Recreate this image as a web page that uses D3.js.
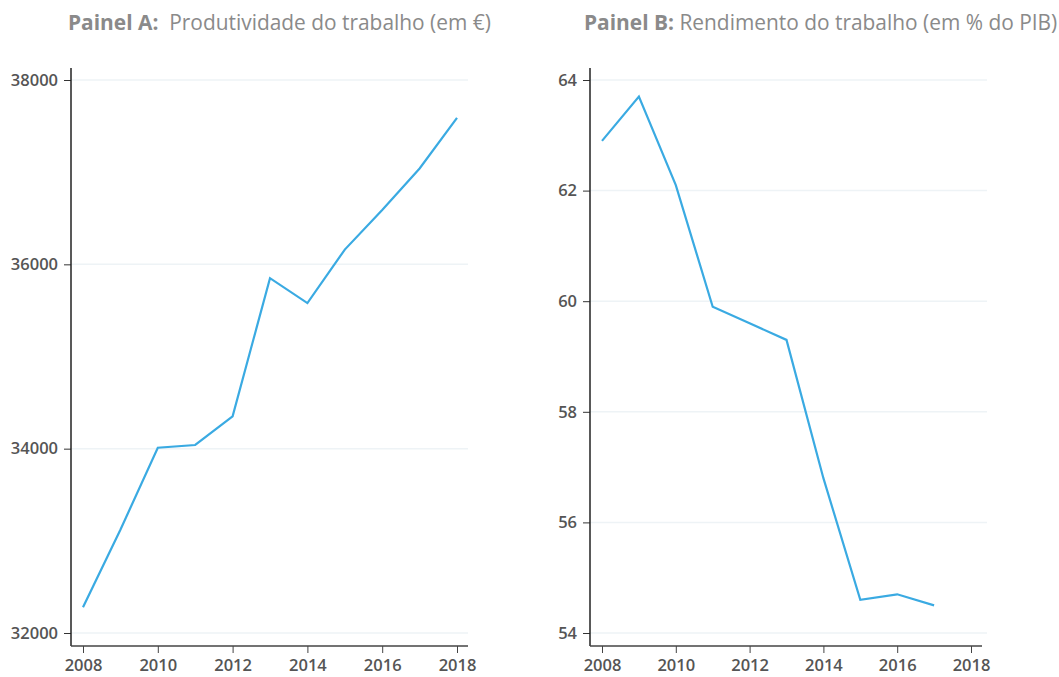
<!DOCTYPE html>
<html>
<head>
<meta charset="utf-8">
<script src="https://cdn.jsdelivr.net/npm/d3@7"></script>
<style>
  body { margin: 0; background: #fff; }
  svg { display: block; font-family: 'Open Sans', sans-serif; }
</style>
</head>
<body>
<script>
// data
const years = [2008, 2009, 2010, 2011, 2012, 2013, 2014, 2015, 2016, 2017, 2018];
const productivity = [32280, 33120, 34010, 34040, 34350, 35850, 35580, 36160, 36590, 37040, 37590];
const yearsB = [2008, 2009, 2010, 2011, 2012, 2013, 2014, 2015, 2016, 2017];
const laborShare = [62.9, 63.7, 62.1, 59.9, 59.6, 59.3, 56.8, 54.6, 54.7, 54.5];

const xTicks = [2008, 2010, 2012, 2014, 2016, 2018];
const yTicksA = [32000, 34000, 36000, 38000];
const yTicksB = [54, 56, 58, 60, 62, 64];

const W = 1059, H = 677;
const svg = d3.select('body').append('svg')
  .attr('width', W)
  .attr('height', H);

function styleTicks(sel) {
  sel.selectAll('text')
    .attr('fill', '#555')
    .style('font-size', '16.5px')
    .style('font-weight', 600)
    .style('font-family', "'Open Sans', sans-serif");
}

function drawPanel(opts) {
  const g = svg.append('g');
  const x = d3.scaleLinear()
    .domain(d3.extent(xTicks))
    .range([opts.left + 12, opts.right - 11]);
  const y = d3.scaleLinear()
    .domain(d3.extent(opts.yTicks))
    .range([633, 80]);
  const top = 68, bottom = 646;

  // gridlines
  g.selectAll('.grid')
    .data(opts.yTicks)
    .enter().append('line')
    .attr('x1', opts.left)
    .attr('x2', opts.gridRight)
    .attr('y1', d => y(d))
    .attr('y2', d => y(d))
    .attr('stroke', '#eef3f6')
    .attr('stroke-width', 1.5);

  // y axis
  const ya = g.append('g')
    .attr('transform', `translate(${opts.left},0)`)
    .call(d3.axisLeft(y).tickValues(opts.yTicks).tickFormat(d3.format('d'))
      .tickSize(7).tickSizeOuter(0).tickPadding(6));
  ya.select('.domain').remove();
  ya.selectAll('.tick line').attr('stroke', '#333');
  styleTicks(ya);
  g.append('line')
    .attr('x1', opts.left).attr('x2', opts.left)
    .attr('y1', top).attr('y2', bottom)
    .attr('stroke', '#222').attr('stroke-width', 1.5);

  // x axis
  const xa = g.append('g')
    .attr('transform', `translate(0,${bottom})`)
    .call(d3.axisBottom(x).tickValues(xTicks).tickFormat(d3.format('d'))
      .tickSize(7).tickSizeOuter(0).tickPadding(6));
  xa.select('.domain').remove();
  xa.selectAll('.tick line').attr('stroke', '#444');
  styleTicks(xa);
  g.append('line')
    .attr('x1', opts.left).attr('x2', opts.right)
    .attr('y1', bottom).attr('y2', bottom)
    .attr('stroke', '#444').attr('stroke-width', 1.5);

  // series line
  const line = d3.line()
    .x((d, i) => x(opts.xs[i]))
    .y(d => y(d));
  g.append('path')
    .datum(opts.values)
    .attr('d', line)
    .attr('fill', 'none')
    .attr('stroke', '#3aaae2')
    .attr('stroke-width', 2.2);

  // title
  const t = g.append('text')
    .attr('x', opts.titleX)
    .attr('y', 30)
    .attr('fill', '#8a8a8a')
    .style('font-size', '20.9px')
    .attr('xml:space', 'preserve');
  t.append('tspan').style('font-weight', 700).text(opts.titleBold);
  t.append('tspan').text(opts.titleRest);
}

drawPanel({
  left: 71, right: 468, gridRight: 468,
  yTicks: yTicksA, xs: years, values: productivity,
  titleX: 68, titleBold: 'Painel A:', titleRest: '  Produtividade do trabalho (em €)'
});

drawPanel({
  left: 590, right: 982, gridRight: 987,
  yTicks: yTicksB, xs: yearsB, values: laborShare,
  titleX: 584, titleBold: 'Painel B:', titleRest: ' Rendimento do trabalho (em % do PIB)'
});
</script>
</body>
</html>
